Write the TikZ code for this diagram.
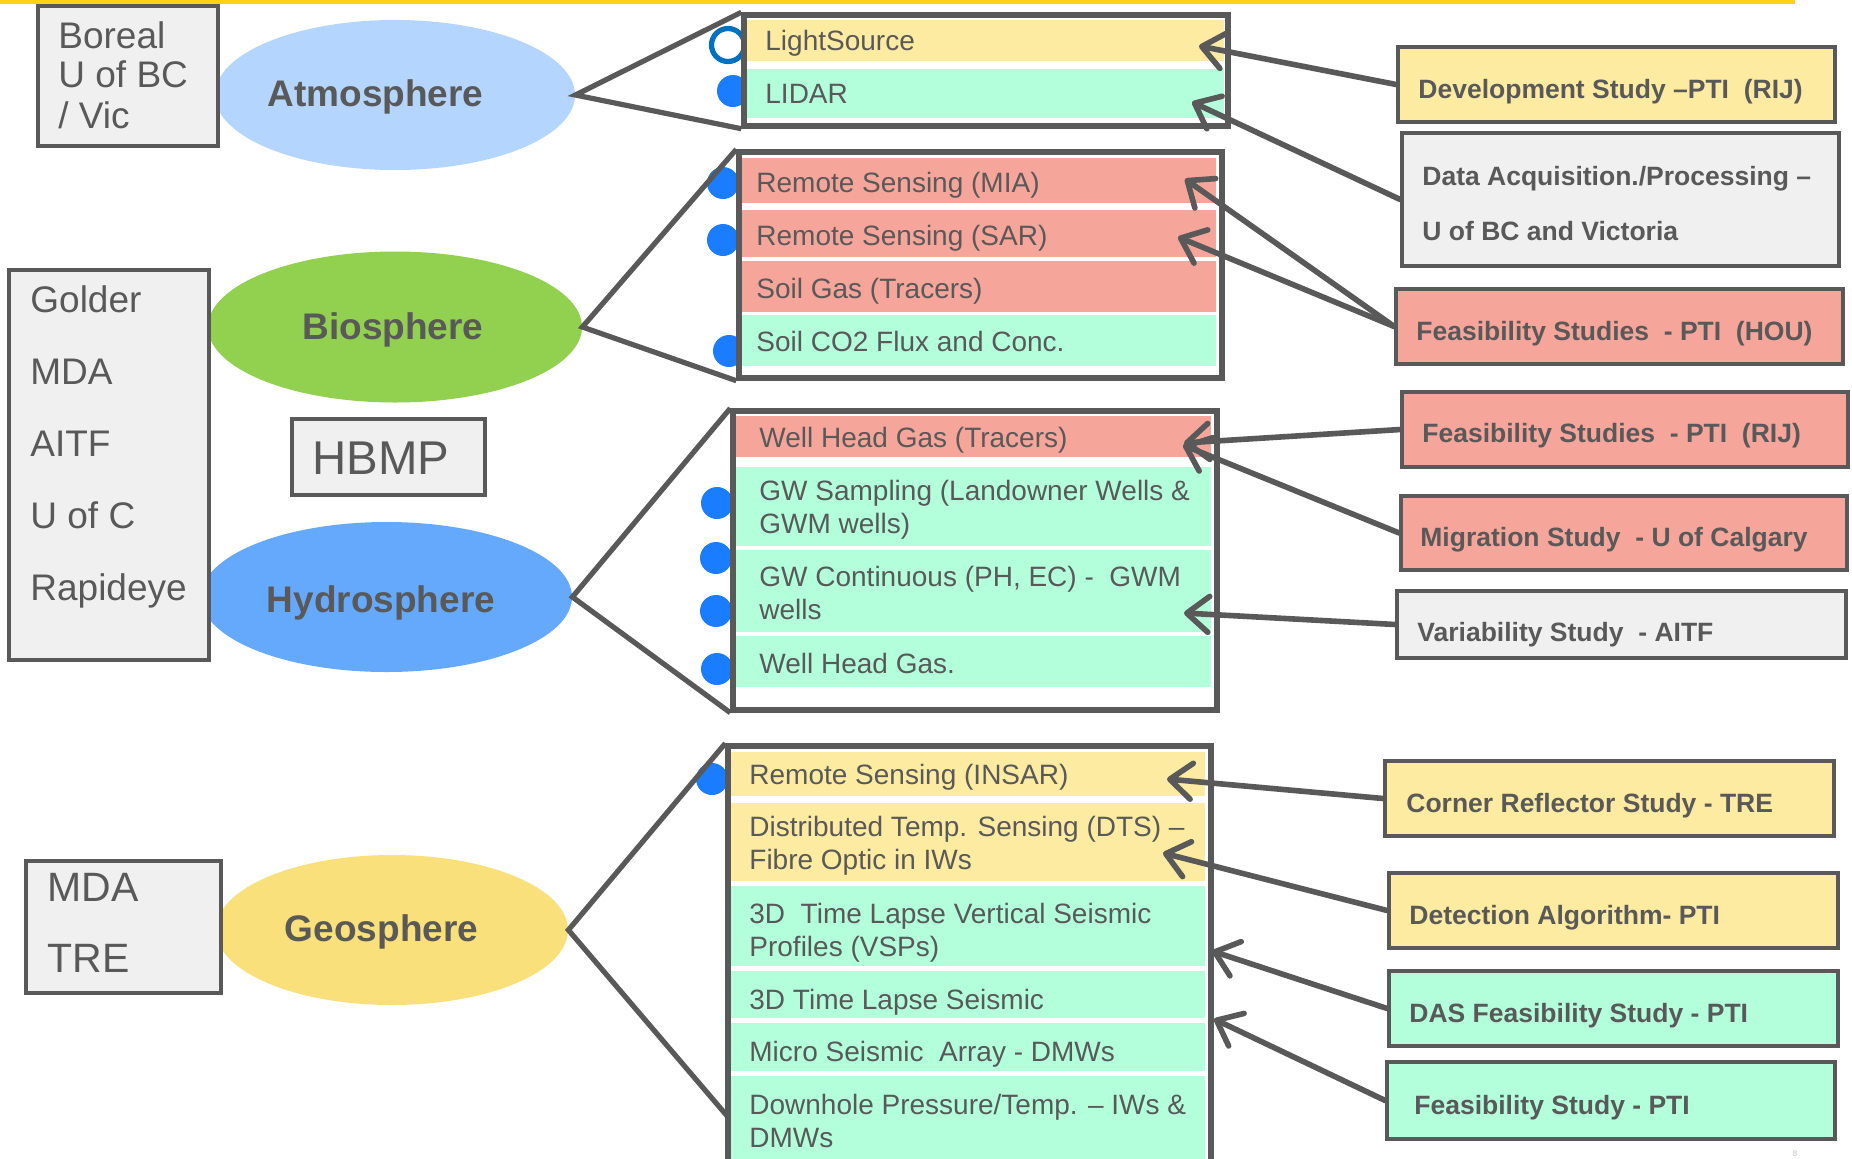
\documentclass[tikz,border=0pt]{standalone}
\usepackage{fontspec}
\setmainfont{Liberation Sans}
\usetikzlibrary{shapes.geometric,arrows.meta,fit}
\definecolor{dg}{HTML}{595959}
\definecolor{boxgrey}{HTML}{F0F0F0}
\definecolor{ylw}{HTML}{FDEBA1}
\definecolor{mint}{HTML}{B3FFDC}
\definecolor{salmon}{HTML}{F6A59A}
\definecolor{atmcol}{HTML}{B4D5FE}
\definecolor{biocol}{HTML}{92D050}
\definecolor{hydcol}{HTML}{65A9FD}
\definecolor{geocol}{HTML}{F9E07A}
\definecolor{dotblue}{HTML}{1A7CFF}
\definecolor{ringblue}{HTML}{0070C0}
\definecolor{topline}{HTML}{FCD116}
\begin{document}
\begin{tikzpicture}[x=0.5pt,y=-0.5pt,
  sphere/.style={ellipse, inner sep=0pt, draw=none},
  spheretext/.style={anchor=base, inner sep=0pt, text=dg, font=\bfseries\fontsize{18.5pt}{20pt}\selectfont},
  lbox/.style={draw=dg, line width=1.7pt, fill=boxgrey, inner sep=0pt},
  lboxtext/.style={anchor=base west, inner sep=0pt, text=dg, font=\fontsize{18.5pt}{20pt}\selectfont},
  listbox/.style={draw=dg, line width=2.7pt, inner sep=0pt},
  listtext/.style={anchor=base west, inner sep=0pt, text=dg, font=\fontsize{14pt}{16pt}\selectfont},
  rbox/.style={draw=dg, line width=1.8pt, inner sep=0pt},
  rtext/.style={anchor=base west, inner sep=0pt, text=dg, font=\bfseries\fontsize{13.25pt}{15pt}\selectfont},
  bdot/.style={circle, fill=dotblue, minimum size=16pt, inner sep=0pt},
  link/.style={draw=dg, line width=2.6pt, line join=miter},
  arr/.style={draw=dg, line width=2.8pt, line cap=round, -{Straight Barb[length=11pt,width=18pt,round]}}
]
\useasboundingbox (0,0) rectangle (1852,1158);
\clip (0,0) rectangle (1852,1158);
\fill[white] (0,0) rectangle (1852,1158);
% top line
\draw[topline, line width=2pt] (0,2) -- (1795,2);

% spheres
\node[sphere, fill=atmcol, minimum width=180pt, minimum height=75pt] (atm) at (395,95) {};
\node[sphere, fill=biocol, minimum width=187pt, minimum height=75.5pt] (bio) at (395,327) {};
\node[sphere, fill=hydcol, minimum width=185.5pt, minimum height=75pt] (hyd) at (386.5,597) {};
\node[sphere, fill=geocol, minimum width=176pt, minimum height=75pt] (geo) at (392,930) {};
\node[spheretext] (atmt) at (375.6,106) {Atmosphere};
\node[spheretext] (biot) at (393,339) {Biosphere};
\node[spheretext] (hydt) at (381,612) {Hydrosphere};
\node[spheretext] (geot) at (381.5,941) {Geosphere};

% left boxes
\node[lbox, fit={(38,6)(218,146)}] (boxA) {};
\node[lboxtext] (a1) at (58,48) {Boreal};
\node[lboxtext] (a2) at (58,87) {U of BC};
\node[lboxtext] (a3) at (58,128) {/ Vic};
\node[lbox, fit={(9,270)(209,660)}] (boxB) {};
\node[lboxtext] (b1) at (30,312) {Golder};
\node[lboxtext] (b2) at (30,384) {MDA};
\node[lboxtext] (b3) at (30,456) {AITF};
\node[lboxtext] (b4) at (30,528) {U of C};
\node[lboxtext] (b5) at (30,600) {Rapideye};
\node[lbox, fit={(26,861)(221,993)}] (boxC) {};
\node[lboxtext, font=\fontsize{20.5pt}{22pt}\selectfont] (c1) at (47,901.5) {MDA};
\node[lboxtext, font=\fontsize{20.5pt}{22pt}\selectfont] (c2) at (47,972.5) {TRE};
\node[lbox, fit={(292,419)(485,495)}] (hbmp) {};
\node[lboxtext, font=\fontsize{23.7pt}{25pt}\selectfont] (hbmpt) at (312,474) {HBMP};

% dots
\node[circle, draw=ringblue, line width=2.6pt, fill=white, minimum size=16.5pt, inner sep=0pt] (ring1) at (728,45) {};
\node[bdot] (d1) at (733,91) {};
\node[bdot] (d2) at (723,183) {};
\node[bdot] (d3) at (723,240) {};
\node[bdot] (d4) at (729,351) {};
\node[bdot] (d5) at (717,503) {};
\node[bdot] (d6) at (716,558) {};
\node[bdot] (d7) at (716,611) {};
\node[bdot] (d8) at (717,669) {};
\node[bdot] (d9) at (712,779) {};

% list box 1
\fill[white] (744,15) rectangle (1228,126);
\fill[ylw] (746,20) rectangle (1224,61);
\fill[mint] (746,69) rectangle (1224,118);
\node[listbox, fit={(744,15)(1228,126)}] (lb1) {};
\node[listtext] (l11) at (765,50) {LightSource};
\node[listtext] (l12) at (765,103) {LIDAR};

% list box 2
\fill[white] (739,152) rectangle (1222,378);
\fill[salmon] (741,158) rectangle (1216,203);
\fill[salmon] (741,210) rectangle (1216,257);
\fill[salmon] (741,261) rectangle (1216,312);
\fill[mint] (741,315) rectangle (1216,366);
\node[listbox, fit={(739,152)(1222,378)}] (lb2) {};
\node[listtext] (l21) at (756,192) {Remote Sensing (MIA)};
\node[listtext] (l22) at (756,245) {Remote Sensing (SAR)};
\node[listtext] (l23) at (756,298) {Soil Gas (Tracers)};
\node[listtext] (l24) at (756,351) {Soil CO2 Flux and Conc.};

% list box 3
\fill[white] (733,411) rectangle (1217,710);
\fill[salmon] (735,416) rectangle (1211,457);
\fill[mint] (735,467) rectangle (1211,546);
\fill[mint] (735,550) rectangle (1211,632);
\fill[mint] (735,636) rectangle (1211,687);
\node[listbox, fit={(733,411)(1217,710)}] (lb3) {};
\node[listtext] (l31) at (759,447) {Well Head Gas (Tracers)};
\node[listtext] (l32) at (759,500) {GW Sampling (Landowner Wells \&};
\node[listtext] (l33) at (759,533) {GWM wells)};
\node[listtext] (l34) at (759,586) {GW Continuous (PH, EC) -\ \ GWM};
\node[listtext] (l35) at (759,619) {wells};
\node[listtext] (l36) at (759,673) {Well Head Gas.};

% list box 4
\fill[white] (728,746) rectangle (1211,1190);
\fill[ylw] (730,752) rectangle (1205,796);
\fill[ylw] (730,803) rectangle (1205,881);
\fill[mint] (730,886) rectangle (1205,966);
\fill[mint] (730,971) rectangle (1205,1018);
\fill[mint] (730,1023) rectangle (1205,1071);
\fill[mint] (730,1076) rectangle (1205,1190);
\node[listbox, fit={(728,746)(1211,1190)}] (lb4) {};
\node[listtext] (l41) at (749,784) {Remote Sensing (INSAR)};
\node[listtext] (l42) at (749,836) {Distributed Temp. Sensing (DTS) –};
\node[listtext] (l43) at (749,869) {Fibre Optic in IWs};
\node[listtext] (l44) at (749,923) {3D\ \ Time Lapse Vertical Seismic};
\node[listtext] (l45) at (749,956) {Profiles (VSPs)};
\node[listtext] (l46) at (749,1009) {3D Time Lapse Seismic};
\node[listtext] (l47) at (749,1061) {Micro Seismic\ \ Array - DMWs};
\node[listtext] (l48) at (749,1114) {Downhole Pressure/Temp. – IWs \&};
\node[listtext] (l49) at (749,1147) {DMWs};

% fan lines
\coordinate (g4low) at (728,1117);
\draw[link] (lb1.north west) -- (atm.east) -- (lb1.south west);
\draw[link] (lb2.north west) -- (bio.east) -- (lb2.south west);
\draw[link] (lb3.north west) -- (hyd.east) -- (lb3.south west);
\draw[link] (lb4.north west) -- (geo.east) -- (g4low);

% right boxes
\node[rbox, fill=ylw, fit={(1398,47)(1835,122)}] (dev) {};
\node[rtext] (devt) at (1418,98.5) {Development Study –PTI\ \ (RIJ)};
\node[rbox, fill=boxgrey, fit={(1402,133)(1839,266)}] (data) {};
\node[rtext] (datat1) at (1422,185.5) {Data Acquisition./Processing –};
\node[rtext] (datat2) at (1422,240.5) {U of BC and Victoria};
\node[rbox, fill=salmon, fit={(1396,289)(1843,364)}] (hou) {};
\node[rtext] (hout) at (1416,340.5) {Feasibility Studies\ \ - PTI\ \ (HOU)};
\node[rbox, fill=salmon, fit={(1402,392)(1848,467)}] (rij) {};
\node[rtext] (rijt) at (1422,442.5) {Feasibility Studies\ \ - PTI\ \ (RIJ)};
\node[rbox, fill=salmon, fit={(1401,496)(1847,570)}] (mig) {};
\node[rtext] (migt) at (1420,546.5) {Migration Study\ \ - U of Calgary};
\node[rbox, fill=boxgrey, fit={(1397,591)(1846,658)}] (var) {};
\node[rtext] (vart) at (1417,641.5) {Variability Study\ \ - AITF};
\node[rbox, fill=ylw, fit={(1385,761)(1834,836)}] (corner) {};
\node[rtext] (cornert) at (1406,812.5) {Corner Reflector Study - TRE};
\node[rbox, fill=ylw, fit={(1389,873)(1838,948)}] (det) {};
\node[rtext] (dett) at (1409,924.5) {Detection Algorithm- PTI};
\node[rbox, fill=mint, fit={(1389,971)(1838,1046)}] (das) {};
\node[rtext] (dast) at (1409,1022.5) {DAS Feasibility Study - PTI};
\node[rbox, fill=mint, fit={(1387,1062)(1835,1139)}] (feas) {};
\node[rtext] (feast) at (1414,1114.5) {Feasibility Study - PTI};

% arrow tips
\coordinate (t1) at (1199,46);
\coordinate (t2) at (1192,102);
\coordinate (t3a) at (1185,179);
\coordinate (t3b) at (1178,237);
\coordinate (t4) at (1184,443);
\coordinate (t5) at (1183,445);
\coordinate (t6) at (1184,613);
\coordinate (t7) at (1167,779);
\coordinate (t8) at (1163,853);
\coordinate (t9) at (1212,951);
\coordinate (t10) at (1214,1019);

\draw[arr] (dev.west) -- (t1);
\draw[arr] (data.west) -- (t2);
\draw[arr] (hou.west) -- (t3a);
\draw[arr] (hou.west) -- (t3b);
\draw[arr] (rij.west) -- (t4);
\draw[arr] (mig.west) -- (t5);
\draw[arr] (var.west) -- (t6);
\draw[arr] (corner.west) -- (t7);
\draw[arr] (det.west) -- (t8);
\draw[arr] (das.west) -- (t9);
\draw[arr] (feas.west) -- (t10);

% page mark
\node[anchor=base, inner sep=0pt, text=black!25, font=\fontsize{4pt}{5pt}\selectfont] (pg) at (1795,1156) {8};
\end{tikzpicture}
\end{document}
